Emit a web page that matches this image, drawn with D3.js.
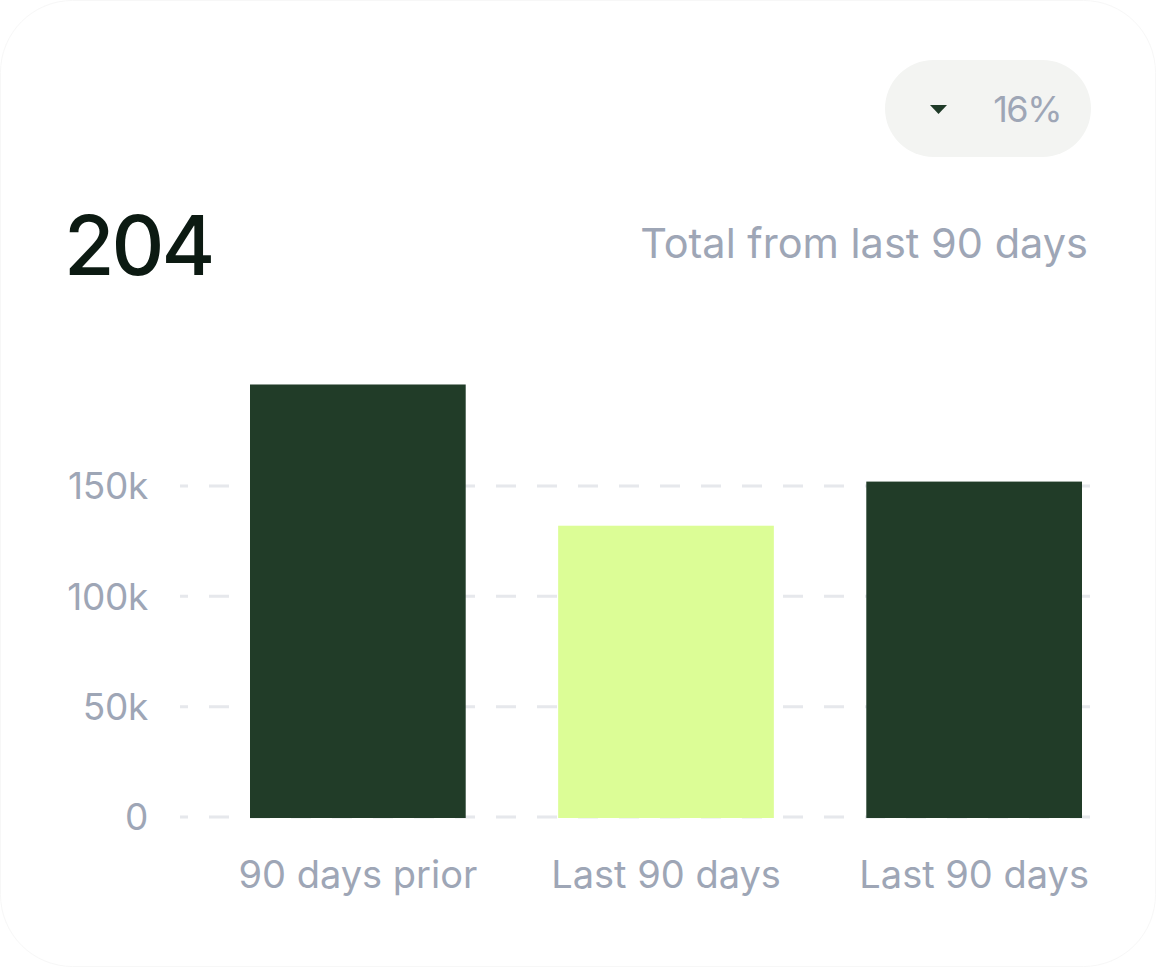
<!DOCTYPE html>
<html>
<head>
<meta charset="utf-8">
<script src="https://cdn.jsdelivr.net/npm/d3@7"></script>
<style>
  html, body { margin: 0; padding: 0; background: #ffffff; }
  svg { display: block; }
  text { font-family: Inter, "Noto Sans", sans-serif; }
</style>
</head>
<body>
<svg id="chart" width="1156" height="967"></svg>
<script>
// ---- data ----
const categories = ["90 days prior", "Last 90 days", "Last 90 days"];
const values = [196000, 132000, 152000];
const highlight = [false, true, false];
const yTicks = [0, 50000, 100000, 150000];
const yTickLabels = ["0", "50k", "100k", "150k"];
const totalValue = "204";
const totalLabel = "Total from last 90 days";
const changeLabel = "16%";

const svg = d3.select("#chart");
const W = 1156, H = 967;

// card
svg.append("rect")
  .attr("x", 0.5).attr("y", 0.5).attr("width", W - 1).attr("height", H - 1)
  .attr("rx", 72).attr("fill", "#ffffff").attr("stroke", "#f7f7f7").attr("stroke-width", 1);

// scales
const x = d3.scaleBand().domain(d3.range(categories.length)).range([250, 1082]).paddingInner(0.3).paddingOuter(0);
const y = d3.scaleLinear().domain([0, 150000]).range([817, 486]);

// gridlines
svg.append("g").selectAll("line").data(yTicks).join("line")
  .attr("x1", 180).attr("x2", 1092)
  .attr("y1", d => y(d)).attr("y2", d => y(d))
  .attr("stroke", "#e6e8ec").attr("stroke-width", 3)
  .attr("stroke-dasharray", "20 21").attr("stroke-dashoffset", 12);

// y axis labels
const yAxis = d3.axisLeft(y).tickValues(yTicks)
  .tickFormat((d, i) => yTickLabels[i]).tickSize(0).tickPadding(0);
const gy = svg.append("g").attr("transform", "translate(148,0)").call(yAxis);
gy.select(".domain").remove();
gy.selectAll("text")
  .attr("fill", "#9ea6b6").style("font-size", "37px").style("font-family", "Inter, sans-serif")
  .style("letter-spacing", "-0.3px").attr("dy", "0.35em");

// bars
svg.append("g").selectAll("rect").data(values).join("rect")
  .attr("x", (d, i) => x(i)).attr("width", x.bandwidth())
  .attr("y", d => y(d)).attr("height", d => y(0) - y(d) + 1)
  .attr("fill", (d, i) => highlight[i] ? "#dcfd96" : "#213c28");

// x axis labels
const xAxis = d3.axisBottom(x).tickFormat(i => categories[i]).tickSize(0).tickPadding(0);
const gx = svg.append("g").attr("transform", "translate(0,875)").call(xAxis);
gx.select(".domain").remove();
gx.selectAll("text")
  .attr("fill", "#9ea6b6").style("font-size", "38px").style("font-family", "Inter, sans-serif")
  .style("letter-spacing", "0px").attr("y", 0).attr("dy", "0.35em");

// headline number
svg.append("text").attr("x", 64).attr("y", 275)
  .attr("fill", "#0c1a12").style("font-size", "82px").style("font-weight", 500)
  .style("letter-spacing", "-3px").text(totalValue);

// subtitle
svg.append("text").attr("x", 1088).attr("y", 258).attr("text-anchor", "end")
  .attr("fill", "#9ea6b6").style("font-size", "41.5px").style("letter-spacing", "0px")
  .text(totalLabel);

// change pill
svg.append("rect").attr("x", 885).attr("y", 60).attr("width", 206).attr("height", 97)
  .attr("rx", 48.5).attr("fill", "#f3f4f2");
svg.append("path")
  .attr("d", d3.line()([[930, 105], [947, 105], [938.5, 114]]) + "Z")
  .attr("fill", "#1f3a28");
svg.append("text").attr("x", 1061).attr("y", 122).attr("text-anchor", "end")
  .attr("fill", "#9ea6b6").style("font-size", "36px").style("letter-spacing", "-1.5px")
  .text(changeLabel);
</script>
</body>
</html>
